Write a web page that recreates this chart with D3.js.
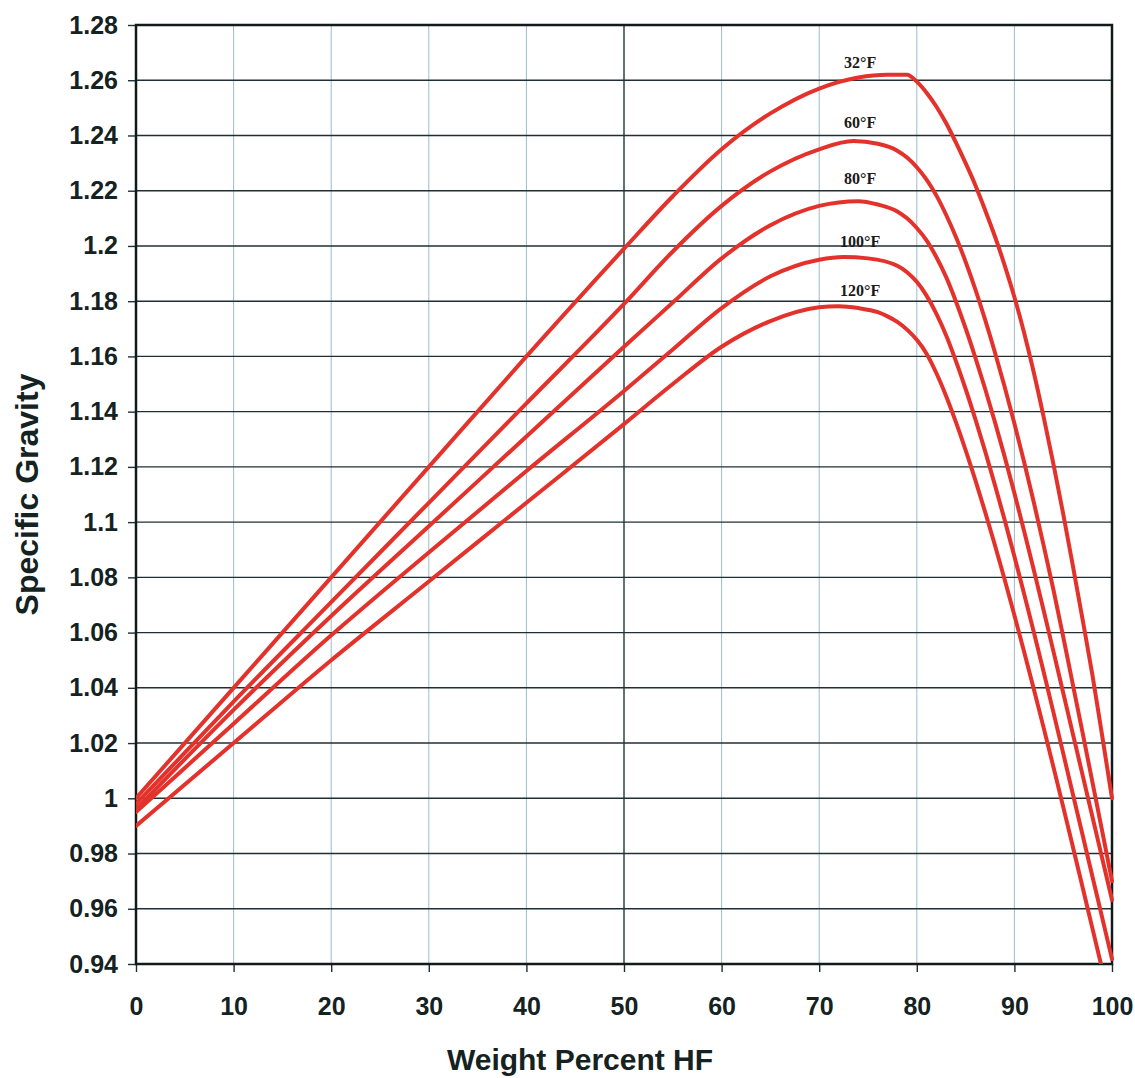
<!DOCTYPE html>
<html><head><meta charset="utf-8">
<script src="https://cdn.jsdelivr.net/npm/d3@7"></script>
<style>body{margin:0;background:#fff}</style>
</head><body><svg id="c" width="1135" height="1078"></svg>
<script>
// ---- data ----
const seriesLabels = ["32°F", "60°F", "80°F", "100°F", "120°F"];

const x32 = [0,10,20,30,40,50,55,60,65,70,74,77,79,80,81,82,83,84,85,86,87,88,89,90,91,92,93,94,95,96,97,98,99,100];
const y32 = [1.000,1.040,1.080,1.120,1.160,1.199,1.218,1.235,1.248,1.257,1.261,1.262,1.262,1.2595,1.2555,1.2505,1.2445,1.2375,1.2300,1.2220,1.2130,1.2035,1.1930,1.1815,1.1685,1.1540,1.1380,1.1210,1.1030,1.0840,1.0645,1.0445,1.0225,1.0000];

const x60 = [0,10,20,30,40,50,55,60,65,70,73.5,76,78,79,80,81,82,83,84,85,86,87,88,89,90,91,92,93,94,95,96,97,98,99,100];
const y60 = [0.998,1.035,1.071,1.107,1.143,1.179,1.198,1.2145,1.227,1.235,1.238,1.237,1.2345,1.2320,1.2285,1.2240,1.2183,1.2113,1.2033,1.1943,1.1843,1.1733,1.1615,1.1490,1.1357,1.1217,1.1070,1.0915,1.0755,1.0585,1.0410,1.0235,1.0058,0.9880,0.9700];

const x80 = [0,10,20,30,40,50,55,60,65,70,74,76,78,79,80,81,82,83,84,85,86,87,88,89,90,91,92,93,94,95,96,97,98,99,100];
const y80 = [0.996,1.032,1.066,1.0985,1.131,1.1635,1.1795,1.1955,1.2075,1.2145,1.2162,1.2150,1.2125,1.2100,1.2065,1.2020,1.1960,1.1888,1.1800,1.1702,1.1596,1.1483,1.1363,1.1237,1.1105,1.0967,1.0825,1.0680,1.0532,1.0382,1.0232,1.0082,0.9932,0.9782,0.9632];

const x100 = [0,10,20,30,40,50,55,60,65,70,72.5,75,78,79,80,81,82,83,84,85,86,87,88,89,90,91,92,93,94,95,96,97,98,99,100];
const y100 = [0.995,1.027,1.059,1.089,1.1185,1.1475,1.1625,1.1775,1.189,1.195,1.196,1.1955,1.1928,1.1905,1.1870,1.1820,1.1755,1.1677,1.1584,1.1482,1.1373,1.1257,1.1135,1.1008,1.0876,1.0740,1.0600,1.0457,1.0311,1.0163,1.0014,0.9865,0.9716,0.9567,0.9418];

const x120 = [0,10,20,30,40,50,55,60,65,70,72,74,76,77,78,79,80,81,82,83,84,85,86,87,88,89,90,91,92,93,94,95,96,97,98,98.9];
const y120 = [0.990,1.020,1.050,1.0785,1.107,1.1355,1.1500,1.1635,1.1728,1.1778,1.1782,1.1775,1.1760,1.1745,1.1725,1.1697,1.1660,1.1610,1.1540,1.1457,1.1363,1.1261,1.1152,1.1037,1.0917,1.0792,1.0663,1.0530,1.0394,1.0255,1.0113,0.9969,0.9823,0.9676,0.9528,0.9395];

const xTicks = [0,10,20,30,40,50,60,70,80,90,100];
const xTickLabels = ["0","10","20","30","40","50","60","70","80","90","100"];
const yTicks = [0.94,0.96,0.98,1.00,1.02,1.04,1.06,1.08,1.10,1.12,1.14,1.16,1.18,1.20,1.22,1.24,1.26,1.28];
const yTickLabels = ["0.94","0.96","0.98","1","1.02","1.04","1.06","1.08","1.1","1.12","1.14","1.16","1.18","1.2","1.22","1.24","1.26","1.28"];

const xTitle = "Weight Percent HF";
const yTitle = "Specific Gravity";

// ---- drawing ----
const svg = d3.select("#c");
const L = 136, R = 1112, T = 25, B = 964;
const x = d3.scaleLinear().domain([0,100]).range([L,R]);
const y = d3.scaleLinear().domain([0.94,1.28]).range([B,T]);
const FONT = "'Liberation Sans', Arial, sans-serif";
const RED = "#e3322b";
const labelGap = [7,13,17,10,10];   // px gap between each curve's peak and its label baseline

svg.append("rect").attr("width",1135).attr("height",1078).attr("fill","#fff");

// vertical grid
svg.append("g").selectAll("line").data(xTicks).join("line")
  .attr("x1", d => x(d)).attr("x2", d => x(d)).attr("y1", T).attr("y2", B)
  .attr("stroke", d => d === 50 ? "#22343a" : "#9dbccb")
  .attr("stroke-width", d => d === 50 ? 1.4 : 1);

// horizontal grid
svg.append("g").selectAll("line").data(yTicks).join("line")
  .attr("x1", L).attr("x2", R).attr("y1", d => y(d)).attr("y2", d => y(d))
  .attr("stroke", "#1f2f33").attr("stroke-width", 1.4);

// axes
const yAxis = d3.axisLeft(y).tickValues(yTicks)
  .tickFormat((d,i) => yTickLabels[i]).tickSize(8).tickPadding(10);
const gy = svg.append("g").attr("transform", `translate(${L},0)`).call(yAxis);
gy.select(".domain").remove();
gy.selectAll("line").attr("stroke","#1f2f33").attr("stroke-width",1.4);
gy.selectAll("text").attr("font-family",FONT).attr("font-weight","bold")
  .attr("font-size",25).attr("fill","#142222");

const xAxis = d3.axisBottom(x).tickValues(xTicks)
  .tickFormat((d,i) => xTickLabels[i]).tickSize(8).tickPadding(25);
const gx = svg.append("g").attr("transform", `translate(0,${B})`).call(xAxis);
gx.select(".domain").remove();
gx.selectAll("line").attr("stroke","#1f2f33").attr("stroke-width",1.4);
gx.selectAll("text").attr("font-family",FONT).attr("font-weight","bold")
  .attr("font-size",25).attr("fill","#142222");

// frame
svg.append("rect").attr("x",L).attr("y",T).attr("width",R-L).attr("height",B-T)
  .attr("fill","none").attr("stroke","#111b1b").attr("stroke-width",2.5);

// curves
const series = [[x32,y32],[x60,y60],[x80,y80],[x100,y100],[x120,y120]];
const line = d3.line().x(d => x(d[0])).y(d => y(d[1])).curve(d3.curveMonotoneX);
svg.append("defs").append("clipPath").attr("id","clip")
  .append("rect").attr("x",L).attr("y",T-10).attr("width",R-L+2).attr("height",B-T+10);
svg.append("g").attr("clip-path","url(#clip)").selectAll("path")
  .data(series.map(([xs,ys]) => xs.map((v,i) => [v, ys[i]]))).join("path")
  .attr("d", line).attr("fill","none").attr("stroke",RED)
  .attr("stroke-width",4).attr("stroke-linejoin","round").attr("stroke-linecap","round");

// curve labels above each peak
svg.append("g").selectAll("text").data(series).join("text")
  .attr("x", x(74.2))
  .attr("y", (d,i) => y(d3.max(d[1])) - labelGap[i])
  .attr("text-anchor","middle")
  .attr("font-family","'Liberation Serif', 'Times New Roman', serif")
  .attr("font-weight","bold").attr("font-size",16).attr("fill","#1a1a1a")
  .text((d,i) => seriesLabels[i]);

// titles
svg.append("text").attr("x",580).attr("y",1070).attr("text-anchor","middle")
  .attr("font-family",FONT).attr("font-weight","bold").attr("font-size",30)
  .attr("fill","#142222").text(xTitle);
svg.append("text").attr("transform",`translate(38,${(T+B)/2}) rotate(-90)`)
  .attr("text-anchor","middle")
  .attr("font-family",FONT).attr("font-weight","bold").attr("font-size",32)
  .attr("fill","#142222").text(yTitle);
</script></body></html>
